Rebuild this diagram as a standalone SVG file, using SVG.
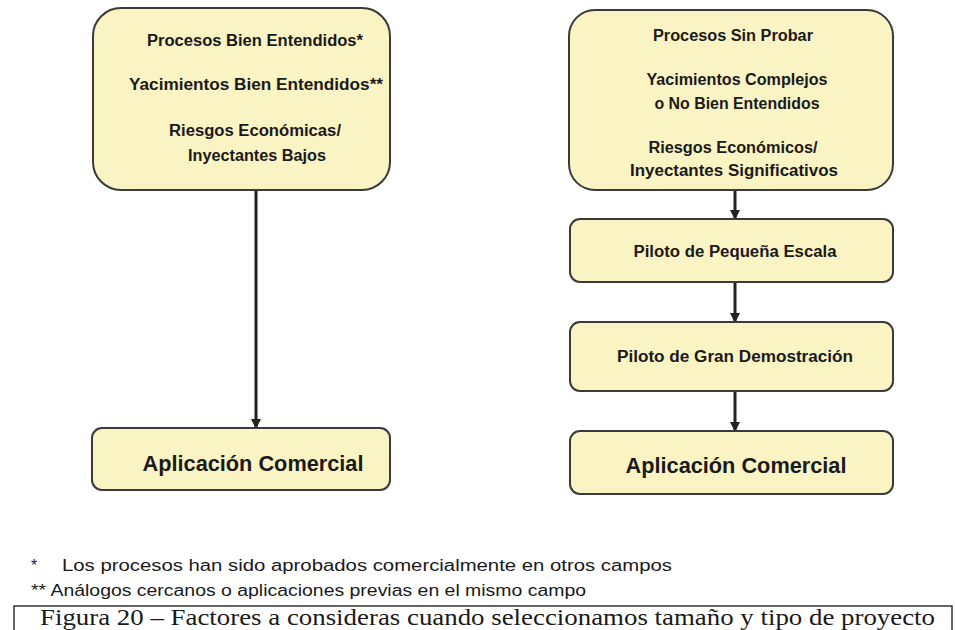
<svg xmlns="http://www.w3.org/2000/svg" width="955" height="630" viewBox="0 0 955 630">
<style>
.box{fill:#faf3c4;stroke:#3a3a3a;stroke-width:2}
.t{font-family:"Liberation Sans",Arial,sans-serif;font-weight:bold;font-size:16px;fill:#1a1a1a;text-anchor:middle}
.big{font-family:"Liberation Sans",Arial,sans-serif;font-weight:bold;font-size:21.5px;fill:#1a1a1a;text-anchor:middle}
.fn{font-family:"Liberation Sans",Arial,sans-serif;font-size:16px;fill:#1a1a1a}
.cap{font-family:"Liberation Serif","Times New Roman",serif;font-size:23px;fill:#1a1a1a}
.c{stroke:#222;stroke-width:3;fill:none}
</style>
<defs>
<marker id="ah" markerWidth="10" markerHeight="10" refX="8" refY="5" orient="auto" markerUnits="userSpaceOnUse">
<path d="M0,0 L10,5 L0,10 Z" fill="#222"/>
</marker>
</defs>
<rect width="955" height="630" fill="#fff"/>
<g id="connectors">
<line class="c" x1="256" y1="191" x2="256" y2="427" marker-end="url(#ah)"/>
<line class="c" x1="735" y1="191" x2="735" y2="218" marker-end="url(#ah)"/>
<line class="c" x1="735" y1="283" x2="735" y2="321" marker-end="url(#ah)"/>
<line class="c" x1="735" y1="392" x2="735" y2="430" marker-end="url(#ah)"/>
</g>
<g id="left-top">
<rect class="box" x="93" y="8" width="297" height="182" rx="28"/>
<text class="t" x="255" y="46" textLength="216" lengthAdjust="spacingAndGlyphs">Procesos Bien Entendidos*</text>
<text class="t" x="256" y="90" textLength="254" lengthAdjust="spacingAndGlyphs">Yacimientos Bien Entendidos**</text>
<text class="t" x="255" y="136" textLength="172" lengthAdjust="spacingAndGlyphs">Riesgos Económicas/</text>
<text class="t" x="257" y="161" textLength="138" lengthAdjust="spacingAndGlyphs">Inyectantes Bajos</text>
</g>
<g id="left-bottom">
<rect class="box" x="92" y="428" width="298" height="62" rx="10"/>
<text class="big" x="253" y="471" textLength="221" lengthAdjust="spacingAndGlyphs">Aplicación Comercial</text>
</g>
<g id="right-top">
<rect class="box" x="569" y="10" width="324" height="180" rx="26"/>
<text class="t" x="733" y="41" textLength="160" lengthAdjust="spacingAndGlyphs">Procesos Sin Probar</text>
<text class="t" x="737" y="85" textLength="181" lengthAdjust="spacingAndGlyphs">Yacimientos Complejos</text>
<text class="t" x="737" y="109" textLength="165" lengthAdjust="spacingAndGlyphs">o No Bien Entendidos</text>
<text class="t" x="733" y="153" textLength="169" lengthAdjust="spacingAndGlyphs">Riesgos Económicos/</text>
<text class="t" x="734" y="176" textLength="208" lengthAdjust="spacingAndGlyphs">Inyectantes Significativos</text>
</g>
<g id="right-pilot-small">
<rect class="box" x="570" y="219" width="323" height="63" rx="10"/>
<text class="t" x="735" y="257" textLength="203" lengthAdjust="spacingAndGlyphs">Piloto de Pequeña Escala</text>
</g>
<g id="right-pilot-large">
<rect class="box" x="570" y="322" width="323" height="69" rx="10"/>
<text class="t" x="735" y="362" textLength="236" lengthAdjust="spacingAndGlyphs">Piloto de Gran Demostración</text>
</g>
<g id="right-bottom">
<rect class="box" x="570" y="431" width="323" height="63" rx="10"/>
<text class="big" x="736" y="473" textLength="221" lengthAdjust="spacingAndGlyphs">Aplicación Comercial</text>
</g>
<g id="footnotes">
<text class="fn" x="31" y="571">*</text>
<text class="fn" x="62" y="571" textLength="610" lengthAdjust="spacingAndGlyphs">Los procesos han sido aprobados comercialmente en otros campos</text>
<text class="fn" x="31" y="596" textLength="555" lengthAdjust="spacingAndGlyphs">**  Análogos cercanos o aplicaciones previas en el mismo campo</text>
</g>
<g id="caption">
<path d="M14,630 L14,606 L952,606 L952,630" fill="none" stroke="#333" stroke-width="1.5"/>
<text class="cap" x="40" y="625" textLength="895" lengthAdjust="spacingAndGlyphs">Figura 20 – Factores a consideras cuando seleccionamos tamaño y tipo de proyecto</text>
</g>
</svg>
